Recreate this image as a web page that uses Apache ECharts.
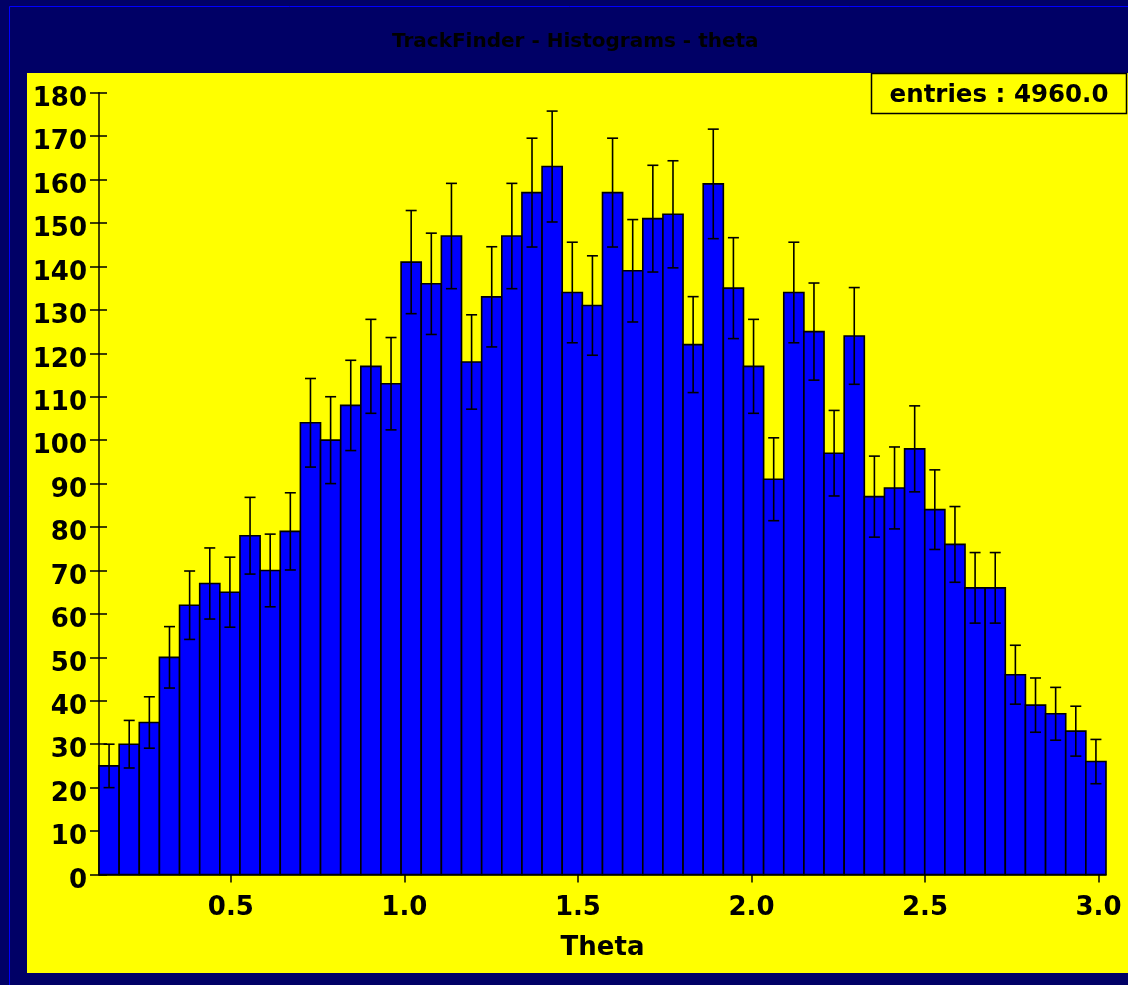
<!DOCTYPE html>
<html><head><meta charset="utf-8">
<script src="https://cdn.jsdelivr.net/npm/echarts@6/dist/echarts.min.js"></script>
<style>html,body{margin:0;padding:0;background:#000066;overflow:hidden}#c{width:1128px;height:985px;}</style>
</head><body><div id="c"></div>
<script>
// ---- data ----
const chartTitle = 'TrackFinder - Histograms - theta';
const xAxisName = 'Theta';
const thetaMin = 0.12;
const thetaMax = 3.0216;
const counts = [25,30,35,50,62,67,65,78,70,79,
                104,100,108,117,113,141,136,147,118,133,
                147,157,163,134,131,157,139,151,152,122,
                159,135,117,91,134,125,97,124,87,89,
                98,84,76,66,66,46,39,37,33,26];
const xTickValues = [0.5, 1.0, 1.5, 2.0, 2.5, 3.0];
const yMin = 0, yMax = 180, yStep = 10;
const entries = counts.reduce((a, b) => a + b, 0);

const FONT = 'DejaVu Sans';
const binW = (thetaMax - thetaMin) / counts.length;
const seriesData = counts.map((c, i) => [thetaMin + (i + 0.5) * binW, c]);

const chart = echarts.init(document.getElementById('c'), null, {renderer: 'canvas'});
chart.setOption({
  backgroundColor: '#000066',
  animation: false,
  title: {
    text: chartTitle, left: 392, top: 32, padding: 0,
    textStyle: {color: '#000', fontFamily: FONT, fontWeight: 'bold', fontSize: 20}
  },
  graphic: [
    {type: 'rect', z: -10, shape: {x: 9.5, y: 6.5, width: 1300, height: 1300},
     style: {fill: 'none', stroke: '#0000ff', lineWidth: 1}},
    {type: 'rect', z: -9, shape: {x: 27, y: 73, width: 1200, height: 900},
     style: {fill: '#ffff00'}},
    {type: 'group', z: 100, children: [
      {type: 'rect', shape: {x: 871.5, y: 73.5, width: 255, height: 40},
       style: {fill: '#ffff00', stroke: '#000', lineWidth: 1.5}},
      {type: 'text', x: 999, y: 96,
       style: {text: 'entries : ' + entries.toFixed(1), fill: '#000', fontFamily: FONT,
               fontWeight: 'bold', fontSize: 24.5, align: 'center', verticalAlign: 'middle'}}
    ]}
  ],
  grid: {left: 99, right: 22, top: 92.7, bottom: 110.5, containLabel: false},
  xAxis: {
    type: 'value', min: thetaMin, max: thetaMax,
    name: xAxisName, nameLocation: 'middle', nameGap: 61,
    nameTextStyle: {color: '#000', fontFamily: FONT, fontWeight: 'bold', fontSize: 26},
    axisLine: {show: true, lineStyle: {color: '#000', width: 1.5}},
    axisTick: {show: true, length: 8, customValues: xTickValues, lineStyle: {color: '#000', width: 1.5}},
    axisLabel: {show: true, customValues: xTickValues, margin: 21,
      formatter: v => Number(v).toFixed(1),
      color: '#000', fontFamily: FONT, fontWeight: 'bold', fontSize: 26},
    splitLine: {show: false}
  },
  yAxis: [{
    type: 'value', min: yMin, max: yMax, interval: yStep, position: 'left',
    axisLine: {show: true, lineStyle: {color: '#000', width: 1.5}},
    axisTick: {show: true, length: 9, lineStyle: {color: '#000', width: 1.5}},
    axisLabel: {margin: 12, verticalAlign: 'top', lineHeight: 13,
      color: '#000', fontFamily: FONT, fontWeight: 'bold', fontSize: 26},
    splitLine: {show: false}
  }, {
    type: 'value', min: yMin, max: yMax, interval: yStep, position: 'left', offset: 0,
    axisLine: {show: false},
    axisTick: {show: true, inside: true, length: 8, lineStyle: {color: '#000', width: 1.5}},
    axisLabel: {show: false},
    splitLine: {show: false}
  }],
  series: [{
    type: 'custom',
    clip: false,
    xAxisIndex: 0, yAxisIndex: 0,
    encode: {x: 0, y: 1},
    data: seriesData,
    renderItem: function (params, api) {
      const xc = api.value(0), c = api.value(1);
      const x0 = xc - binW / 2, x1 = xc + binW / 2;
      const pTop = api.coord([x0, c]);
      const pBot = api.coord([x1, 0]);
      const err = Math.sqrt(c);
      const eTop = api.coord([xc, c + err]);
      const eBot = api.coord([xc, c - err]);
      const cap = 5.5;
      const ls = {stroke: '#000', lineWidth: 1.6};
      return {type: 'group', children: [
        {type: 'rect', shape: {x: pTop[0], y: pTop[1], width: pBot[0] - pTop[0], height: pBot[1] - pTop[1]},
         style: {fill: '#0000ff', stroke: '#000', lineWidth: 1.6}},
        {type: 'line', shape: {x1: eTop[0], y1: eTop[1], x2: eBot[0], y2: eBot[1]}, style: ls},
        {type: 'line', shape: {x1: eTop[0] - cap, y1: eTop[1], x2: eTop[0] + cap, y2: eTop[1]}, style: ls},
        {type: 'line', shape: {x1: eBot[0] - cap, y1: eBot[1], x2: eBot[0] + cap, y2: eBot[1]}, style: ls}
      ]};
    }
  }]
});
</script></body></html>
